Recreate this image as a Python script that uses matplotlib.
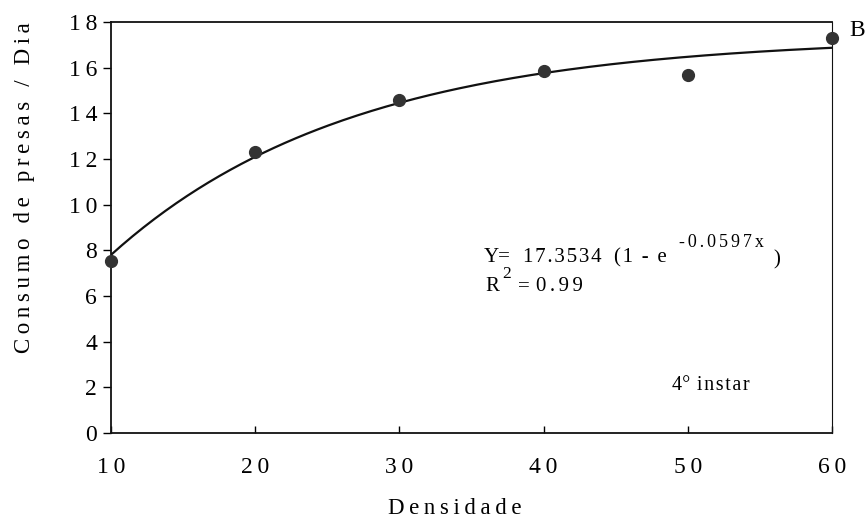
import numpy as np
import matplotlib
matplotlib.use("Agg")
import matplotlib.pyplot as plt
from matplotlib.ticker import FuncFormatter

plt.rcParams['font.family'] = ['Liberation Serif', 'DejaVu Serif']

densidade = [10, 20, 30, 40, 50, 60]
consumo = [7.55, 12.3, 14.6, 15.85, 15.7, 17.3]
fit_a = 17.3534
fit_b = 0.0597
xticks = [10, 20, 30, 40, 50, 60]
yticks = [0, 2, 4, 6, 8, 10, 12, 14, 16, 18]

TS = '\u2009'
SS = '\u2006'
HS = '\u200a'


def spaced(s, sep=TS):
    return sep.join(s)


W, H = 865, 520
fig = plt.figure(figsize=(W / 100, H / 100), dpi=100)
ax = fig.add_axes([111 / W, 1 - 433 / H, (832 - 111) / W, (433 - 22) / H])

xs = np.linspace(min(densidade), max(densidade), 200)
ax.plot(xs, fit_a * (1 - np.exp(-fit_b * xs)), color='#111111', lw=1.6)
ax.plot(densidade, consumo, 'o', color='#333333', ms=8.5, zorder=3, clip_on=False)

ax.set_xlim(10, 60)
ax.set_ylim(0, 18)
ax.set_xticks(xticks)
ax.set_yticks(yticks)
fmt = FuncFormatter(lambda v, p: spaced('%d' % v))
ax.xaxis.set_major_formatter(fmt)
ax.yaxis.set_major_formatter(fmt)
ax.tick_params(axis='x', direction='in', length=5, labelsize=17, pad=17, width=1)
ax.tick_params(axis='y', direction='out', length=6, labelsize=17, pad=4, width=1)
for s in ax.spines.values():
    s.set_linewidth(1.3)
    s.set_color('#111111')
ax.spines['right'].set_linewidth(0.8)

fig.text(455 / W, 1 - 508 / H, spaced('Densidade'), fontsize=16.5, ha='center', va='center')
fig.text(25 / W, 1 - 188 / H, spaced('Consumo de presas / Dia'), fontsize=16.5,
         ha='center', va='center', rotation=90)


def put(s, x, y, fs, ha='left'):
    fig.text(x / W, 1 - y / H, s, fontsize=fs, ha=ha, va='baseline')


fs = 15
put('Y=', 484, 262, fs)
put(spaced('17.3534', HS), 523, 262, fs)
put(spaced('(1 - e', HS), 614, 262, fs)
put(spaced('-0.0597x', SS), 679, 247, 13)
put(')', 773, 264, 15)
put('R', 485, 291, fs)
put('2', 502, 278, 12.5)
put('=', 518, 291, fs)
put(spaced('0.99', SS), 536, 291, fs)
put('4°' + HS + ' ' + spaced('instar', HS), 672, 390, 14.5)
fig.text(849 / W, 1 - 30 / H, 'B', fontsize=17, va='center', ha='left')

fig.savefig('out.png', dpi=100)
